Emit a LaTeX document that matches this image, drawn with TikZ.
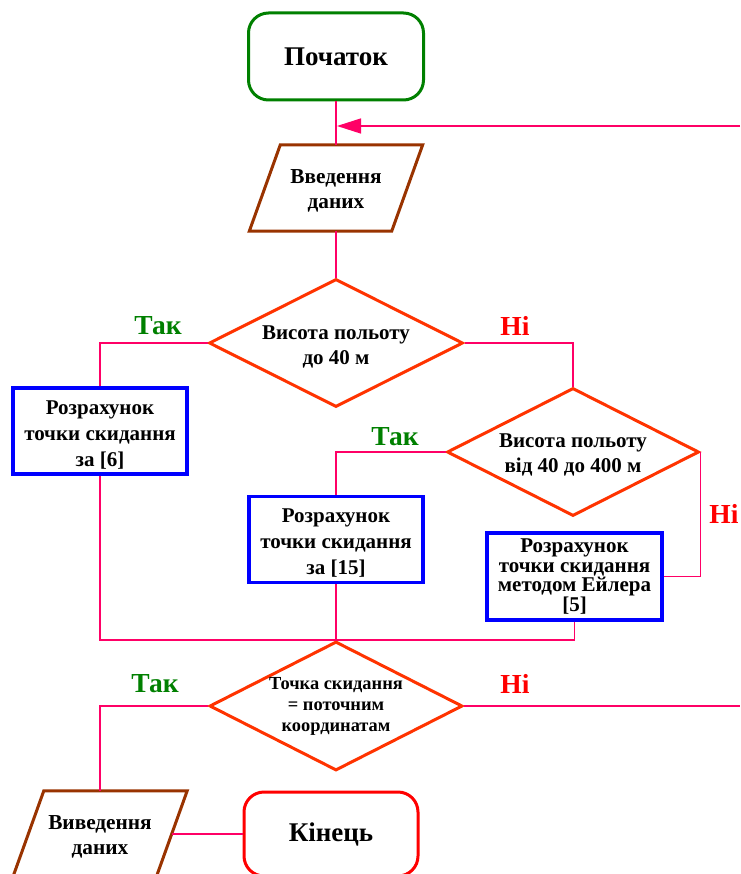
\documentclass[tikz,border=0pt]{standalone}
\usepackage{fontspec}
\setmainfont{Liberation Serif}
\usetikzlibrary{shapes.geometric,arrows.meta}
\definecolor{cgreen}{RGB}{0,128,0}
\definecolor{cbrown}{RGB}{153,51,0}
\definecolor{cpink}{RGB}{255,0,102}
\definecolor{corange}{RGB}{255,51,0}
\definecolor{cblue}{RGB}{0,0,255}
\definecolor{cred}{RGB}{255,0,0}
\newcommand\mystrut[1]{\rule{0pt}{#1}}
\tikzset{
  term/.style={rectangle, rounded corners=20pt, line width=3pt, minimum width=175pt, minimum height=87pt, font=\bfseries\fontsize{27}{30}\selectfont},
  io/.style={rectangle, minimum width=173pt, minimum height=86pt, inner sep=0pt, align=center, font=\bfseries\fontsize{21.3}{25}\selectfont},
  ioshape/.style={draw=cbrown, line width=3pt, line join=miter},
  dec/.style={diamond, aspect=2, draw=corange, line width=3pt, minimum width=254pt, minimum height=128pt, inner sep=0pt, align=center, font=\bfseries\fontsize{21}{25}\selectfont},
  proc/.style={rectangle, draw=cblue, line width=3.5pt, minimum width=174pt, minimum height=86pt, inner sep=1pt, align=center, font=\bfseries\fontsize{21}{26}\selectfont},
  conn/.style={draw=cpink, line width=1.5pt},
  yes/.style={text=cgreen, font=\bfseries\fontsize{27.5}{30}\selectfont},
  no/.style={text=cred, font=\bfseries\fontsize{27.5}{30}\selectfont}
}
\begin{document}
\begin{tikzpicture}[x=1pt,y=-1pt]
\useasboundingbox (0,0) rectangle (740,874);
\clip (0,0) rectangle (740,874);

\node[term, draw=cgreen] (start) at (336,56.5) {Початок};
\node[io] (in) at (336,188) {\mystrut{20pt}Введення\\даних};
\draw[ioshape] ([xshift=31pt]in.north west) -- (in.north east) -- ([xshift=-31pt]in.south east) -- (in.south west) -- cycle;
\node[dec] (d1) at (336,343) {\mystrut{22pt}Висота польоту\\до 40 м};
\node[proc] (p1) at (100,431) {\mystrut{21.5pt}Розрахунок\\точки скидання\\за [6]};
\node[dec, minimum width=252pt] (d2) at (573,452) {\mystrut{20pt}Висота польоту\\від 40 до 400 м};
\node[proc] (p2) at (336,539.5) {\mystrut{21.5pt}Розрахунок\\точки скидання\\за [15]};
\node[proc, minimum width=175pt, minimum height=87pt, font=\bfseries\fontsize{21}{19.5}\selectfont] (p3) at (574.5,576.5) {Розрахунок\\точки скидання\\методом Ейлера\\{[5]}};
\node[dec, minimum width=253pt, minimum height=129pt, font=\bfseries\fontsize{18.4}{21}\selectfont] (d3) at (336,706) {Точка скидання\\= поточним\\координатам};
\node[io, minimum width=174pt] (out) at (100,834) {\mystrut{20pt}Виведення\\даних};
\draw[ioshape] ([xshift=31pt]out.north west) -- (out.north east) -- ([xshift=-31pt]out.south east) -- (out.south west) -- cycle;
\node[term, draw=cred, minimum width=174pt, minimum height=84pt] (end) at (331,834) {Кінець};

\coordinate (loopR) at (740,126);
\coordinate (rightR) at (740,706);

\node[yes] (t1) at (158,326) {Так};
\node[no] (n1) at (515,326) {Ні};
\node[yes] (t2) at (395,437) {Так};
\node[no] (n2) at (724,514) {Ні};
\node[yes] (t3) at (155,684) {Так};
\node[no] (n3) at (515,684) {Ні};

\draw[conn] (start.south) -- (in.north);
\draw[conn, -{Triangle[length=24pt,width=15pt]}, shorten >=1pt] (loopR) -- (loopR -| start.south);
\draw[conn] (in.south) -- (d1.north);
\draw[conn] (d1.west) -| (p1.north);
\draw[conn] (d1.east) -| (d2.north);
\draw[conn] (d2.west) -| (p2.north);
\draw[conn] (d2.east) |- (p3.east);
\draw[conn] (p1.south) -- (p1.south |- d3.north) -- (p3.south |- d3.north) -- (p3.south);
\draw[conn] (p2.south) -- (d3.north);
\draw[conn] (d3.west) -| (out.north);
\draw[conn] (d3.east) -- (rightR);
\draw[conn] ([xshift=-15.5pt]out.east) -- (end.west);
\end{tikzpicture}
\end{document}
